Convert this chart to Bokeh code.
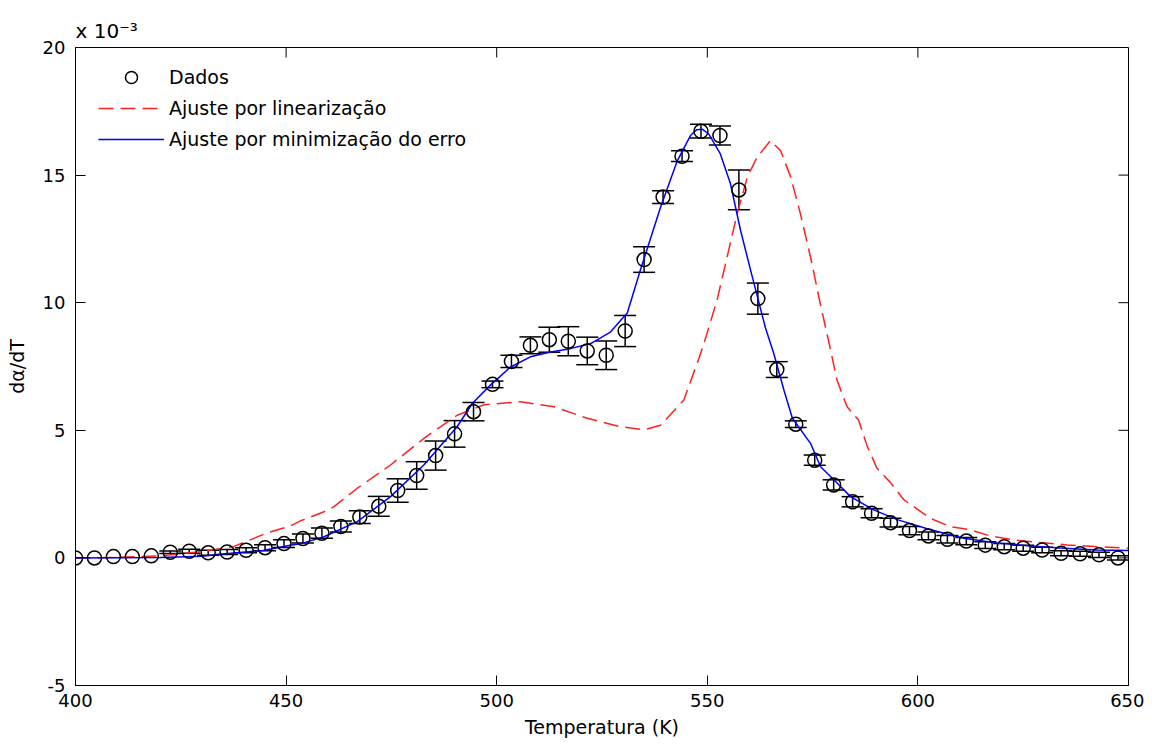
import numpy as np
from bokeh.plotting import figure
from bokeh.models import (ColumnDataSource, Whisker, TeeHead, FixedTicker, Legend,
                          LegendItem, Title, Range1d)
from bokeh.embed import file_html
from bokeh.resources import INLINE

FONT = "DejaVu Sans"

# ---- data (y in units of 1e-3) ----
T_data = [400.0, 404.5, 409.0, 413.5, 418.0, 422.5, 427.0, 431.5, 436.0, 440.5,
          445.0, 449.5, 454.0, 458.5, 463.0, 467.5, 472.0, 476.5, 481.0, 485.5,
          490.0, 494.5, 499.0, 503.5, 508.0, 512.5, 517.0, 521.5, 526.0, 530.5,
          535.0, 539.5, 544.0, 548.5, 553.0, 557.5, 562.0, 566.5, 571.0, 575.5,
          580.0, 584.5, 589.0, 593.5, 598.0, 602.5, 607.0, 611.5, 616.0, 620.5,
          625.0, 629.5, 634.0, 638.5, 643.0, 647.5]
y_data = [0.00, 0.00, 0.05, 0.05, 0.08, 0.22, 0.26, 0.20, 0.23, 0.30,
          0.40, 0.56, 0.76, 0.97, 1.23, 1.60, 2.02, 2.64, 3.23, 4.01,
          4.86, 5.73, 6.80, 7.70, 8.33, 8.55, 8.49, 8.11, 7.94, 8.89,
          11.69, 14.14, 15.74, 16.72, 16.55, 14.42, 10.16, 7.38, 5.24, 3.83,
          2.86, 2.20, 1.75, 1.38, 1.07, 0.86, 0.73, 0.66, 0.50, 0.44,
          0.38, 0.31, 0.18, 0.16, 0.12, 0.00]
err_data = [0.0, 0.0, 0.0, 0.0, 0.0, 0.05, 0.08, 0.10, 0.10, 0.10,
            0.12, 0.15, 0.18, 0.20, 0.22, 0.25, 0.39, 0.46, 0.54, 0.57,
            0.52, 0.36, 0.13, 0.24, 0.33, 0.49, 0.57, 0.54, 0.56, 0.61,
            0.50, 0.25, 0.21, 0.27, 0.37, 0.78, 0.61, 0.31, 0.13, 0.20,
            0.20, 0.20, 0.18, 0.17, 0.16, 0.15, 0.15, 0.14, 0.13, 0.12,
            0.12, 0.11, 0.10, 0.10, 0.10, 0.08]

T_lin = [400, 410, 420, 430, 437.5, 445.5, 451, 453.4, 459, 461.3, 466.9, 474.8,
         482.7, 490.6, 497, 505.6, 513.6, 521.5, 529.4, 535, 538.9, 544.4, 548,
         549.2, 552.3, 554.7, 557.1, 559.5, 561.8, 565, 567.4, 569.8, 572.1,
         574.5, 576.9, 578.8, 580.8, 583.2, 585.9, 588, 590.3, 593.5, 596.7,
         598.2, 603, 607.7, 612.5, 617.2, 622.8, 629.1, 635.4, 642.6, 650]
y_lin = [0.0, 0.02, 0.08, 0.25, 0.44, 0.98, 1.25, 1.45, 1.81, 2.0, 2.73, 3.64,
         4.68, 5.59, 6.0, 6.12, 5.92, 5.47, 5.14, 5.02, 5.2, 6.18, 7.81,
         8.4, 10.09, 11.79, 13.49, 14.92, 15.7, 16.35, 15.96, 14.92, 13.49,
         11.79, 9.9, 8.5, 6.96, 5.92, 5.4, 4.36, 3.51, 2.95, 2.27,
         2.1, 1.55, 1.22, 1.1, 0.86, 0.7, 0.6, 0.51, 0.44, 0.38]

T_min = [400, 420, 430, 435.6, 444.5, 451, 453.4, 459, 466.9, 474.8, 482.7,
         490.6, 494.2, 498.5, 503.3, 508, 512.8, 517.5, 522.3, 527, 529.4, 531,
         534.1, 538.9, 542.9, 546, 547.5, 548.8, 550.4, 553.1, 555.5, 557.9, 560.7,
         563.8, 565.8, 568.2, 570.2, 574.5, 576.9, 580.1, 584, 589.5, 595.1,
         603, 610.9, 618.8, 626.7, 634.6, 642.6, 650]
y_min = [0.0, 0.02, 0.06, 0.16, 0.29, 0.5, 0.55, 0.83, 1.42, 2.4, 3.64,
         5.14, 6.05, 6.77, 7.48, 7.88, 8.07, 8.2, 8.4, 8.85, 9.3, 9.6,
         11.27, 13.74, 15.57, 16.55, 16.78, 16.8, 16.6, 15.83, 14.66, 12.83, 11.0,
         9.02, 8.0, 6.57, 5.47, 4.49, 3.57, 3.05, 2.4, 1.88, 1.5,
         1.1, 0.77, 0.58, 0.47, 0.38, 0.31, 0.29]

x_ticks = [400, 450, 500, 550, 600, 650]
y_ticks = [-5, 0, 5, 10, 15, 20]
y_tick_labels = ["-5", "0", "5", "10", "15", "20"]

legend_labels = ["Dados", "Ajuste por linearização", "Ajuste por minimização do erro"]

X0, X1, Y0, Y1 = 400, 650, -5, 20
TICK_PX = 10
W, H = 1144, 740
BL, BR, BT, BB = 75, 16, 47, 54

p = figure(width=W, height=H, output_backend="svg", toolbar_location=None,
           x_range=Range1d(X0, X1), y_range=Range1d(Y0, Y1),
           min_border_left=BL, min_border_right=BR, min_border_top=BT, min_border_bottom=BB,
           x_axis_label="Temperatura (K)", y_axis_label="dα/dT")
p.title.visible = False
p.grid.visible = False
p.outline_line_color = "black"
p.outline_line_width = 1
p.background_fill_color = "white"
p.border_fill_color = "white"

for ax, ticks in ((p.xaxis[0], x_ticks), (p.yaxis[0], y_ticks)):
    ax.ticker = FixedTicker(ticks=ticks)
    ax.major_tick_in = TICK_PX
    ax.major_tick_out = 0
    ax.minor_tick_line_color = None
    ax.axis_line_color = "black"
    ax.major_tick_line_color = "black"
    ax.major_label_text_font = FONT
    ax.major_label_text_font_size = "18px"
    ax.major_label_text_color = "black"
    ax.axis_label_text_font = FONT
    ax.axis_label_text_font_size = "19px"
    ax.axis_label_text_font_style = "normal"
    ax.axis_label_text_color = "black"
p.yaxis[0].major_label_overrides = {t: s for t, s in zip(y_ticks, y_tick_labels)}
p.xaxis[0].major_label_standoff = 8
p.xaxis[0].axis_label_standoff = 6
p.yaxis[0].major_label_standoff = 10
p.yaxis[0].axis_label_standoff = 12

# inward ticks on top and right edges (box on)
frame_w = W - BL - BR
frame_h = H - BT - BB
dy_tick = TICK_PX * (Y1 - Y0) / frame_h
dx_tick = TICK_PX * (X1 - X0) / frame_w
p.segment(x0=x_ticks, y0=[Y1] * len(x_ticks), x1=x_ticks, y1=[Y1 - dy_tick] * len(x_ticks),
          line_color="black", line_width=1)
p.segment(x0=[X1] * len(y_ticks), y0=y_ticks, x1=[X1 - dx_tick] * len(y_ticks), y1=y_ticks,
          line_color="black", line_width=1)

# lines
r_lin = p.line(T_lin, y_lin, line_color="#ff2020", line_width=1.5, line_dash="15 7")
r_min = p.line(T_min, y_min, line_color="#0000ff", line_width=1.5)

# error bars
Te = [t for t, e in zip(T_data, err_data) if e > 0]
up = [y + e for y, e in zip(y_data, err_data) if e > 0]
lo = [y - e for y, e in zip(y_data, err_data) if e > 0]
esrc = ColumnDataSource(dict(x=Te, upper=up, lower=lo))
wk = Whisker(base="x", upper="upper", lower="lower", source=esrc,
             line_color="black", line_width=1.5,
             upper_head=TeeHead(size=22, line_color="black", line_width=1.5),
             lower_head=TeeHead(size=22, line_color="black", line_width=1.5))
p.add_layout(wk)

r_pts = p.scatter(T_data, y_data, marker="circle", size=14, fill_alpha=0,
                  line_color="black", line_width=1.5)

legend = Legend(items=[LegendItem(label=legend_labels[0], renderers=[r_pts]),
                       LegendItem(label=legend_labels[1], renderers=[r_lin]),
                       LegendItem(label=legend_labels[2], renderers=[r_min])],
                location=(23, frame_h - 16 - 92), glyph_width=66, glyph_height=30,
                label_height=30, spacing=1, padding=0, margin=0, label_standoff=5,
                label_text_font=FONT, label_text_font_size="19px", label_text_color="black",
                border_line_alpha=0, background_fill_alpha=0)
p.add_layout(legend)

# multiplier "x 10^-3"
p.add_layout(Title(text="x 10\u207b\u00b3", align="left", text_font=FONT, text_font_size="20px",
                   text_font_style="normal", text_color="black", standoff=9,
                   text_line_height=1.0), "above")

open("out.html", "w").write(file_html(p, INLINE))
